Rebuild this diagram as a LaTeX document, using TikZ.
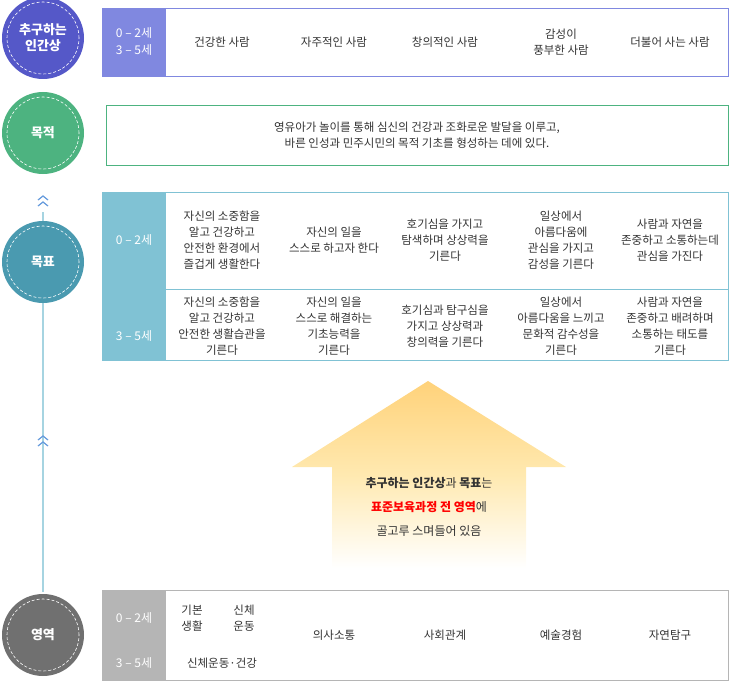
\documentclass[tikz,border=0pt]{standalone}
\usepackage{fontspec}
\setmainfont{Noto Sans CJK KR}
\usetikzlibrary{positioning}
\definecolor{ideal}{HTML}{5558C8}
\definecolor{idealcell}{HTML}{8088E0}
\definecolor{purpose}{HTML}{4DB380}
\definecolor{goal}{HTML}{4A9AB0}
\definecolor{goalcell}{HTML}{80C2D4}
\definecolor{area}{HTML}{707070}
\definecolor{areacell}{HTML}{B5B5B5}
\definecolor{txt}{HTML}{333333}
\definecolor{arrowtop}{HTML}{FFD27A}
\definecolor{arrowmid}{HTML}{FFE9B0}
\tikzset{Badge/.style={circle, minimum size=82pt, text=white, font=\bfseries\fontsize{13}{16}\selectfont, align=center},
         Cell/.style={text=txt, font=\fontsize{11.5}{16}\selectfont, align=center},
         Age/.style={text=white, font=\fontsize{12}{17}\selectfont, align=center},
         Chev/.style={draw=goalcell!80!blue, line width=1.2pt}}
\begin{document}
\begin{tikzpicture}[x=1pt, y=-1pt]
  \useasboundingbox (0,0) rectangle (729,685);
  % spine
  \draw[goalcell!70!white, line width=1.5pt] (43,212) -- (43,592);
  \foreach \y in {196,202,436,442}
    \draw[Chev] (38,\y+4) -- (43,\y) -- (48,\y+4);
  % badges
  \node[Badge, fill=ideal] (B1) at (43,38) {추구하는\\인간상};
  \node[Badge, fill=purpose] (B2) at (43,133) {목적};
  \node[Badge, fill=goal] (B3) at (43,262) {목표};
  \node[Badge, fill=area] (B4) at (43,635) {영역};
  \foreach \n in {B1,B2,B3,B4}
    \draw[white, densely dashed, line width=0.6pt] (\n.center) circle (36pt);
  % ideal human
  \draw[idealcell] (102,8) rectangle (728,76);
  \fill[idealcell] (102,8) rectangle (166,76);
  \node[Age] (A1) at (134,42) {0 – 2세\\3 – 5세};
  \foreach \x/\t in {222/건강한 사람, 334/자주적인 사람, 445/창의적인 사람, 561/감성이\\풍부한 사람, 670/더불어 사는 사람}
    \node[Cell] at (\x,42) {\t};
  % purpose
  \draw[purpose] (106,105) rectangle (728,165);
  \node[Cell] (P) at (417,135) {영유아가 놀이를 통해 심신의 건강과 조화로운 발달을 이루고,\\바른 인성과 민주시민의 목적 기초를 형성하는 데에 있다.};
  % goals
  \draw[goalcell] (102,192) rectangle (728,360);
  \fill[goalcell] (102,192) rectangle (166,360);
  \draw[goalcell] (102,289) -- (728,289);
  \node[Age] (G1) at (134,240) {0 – 2세};
  \node[Age] (G2) at (134,336) {3 – 5세};
  \foreach \x/\t in {222/자신의 소중함을\\알고 건강하고\\안전한 환경에서\\즐겁게 생활한다, 334/자신의 일을\\스스로 하고자 한다, 445/호기심을 가지고\\탐색하며 상상력을\\기른다, 561/일상에서\\아름다움에\\관심을 가지고\\감성을 기른다, 670/사람과 자연을\\존중하고 소통하는데\\관심을 가진다}
    \node[Cell] at (\x,240) {\t};
  \foreach \x/\t in {222/자신의 소중함을\\알고 건강하고\\안전한 생활습관을\\기른다, 334/자신의 일을\\스스로 해결하는\\기초능력을\\기른다, 445/호기심과 탐구심을\\가지고 상상력과\\창의력을 기른다, 561/일상에서\\아름다움을 느끼고\\문화적 감수성을\\기른다, 670/사람과 자연을\\존중하고 배려하며\\소통하는 태도를\\기른다}
    \node[Cell] at (\x,326) {\t};
  % big arrow
  \shade[top color=arrowtop, bottom color=white, middle color=arrowmid]
    (428,381) -- (566,467) -- (526,467) -- (526,568) -- (332,568) -- (332,467) -- (292,467) -- cycle;
  \node[Cell, font=\fontsize{12}{24}\selectfont] (M) at (429,507)
    {\textbf{추구하는 인간상}과 \textbf{목표}는\\{\color{red}\textbf{표준보육과정 전 영역}}에\\골고루 스며들어 있음};
  % areas
  \draw[areacell] (102,590) rectangle (728,680);
  \fill[areacell] (102,590) rectangle (166,680);
  \node[Age] (R1) at (134,618) {0 – 2세};
  \node[Age] (R2) at (134,663) {3 – 5세};
  \node[Cell, align=left] (S1) at (192,618) {기본\\생활};
  \node[Cell, align=left] (S2) at (244,618) {신체\\운동};
  \node[Cell] (S3) at (222,663) {신체운동·건강};
  \foreach \x/\t in {334/의사소통, 445/사회관계, 561/예술경험, 670/자연탐구}
    \node[Cell] at (\x,635) {\t};
\end{tikzpicture}
\end{document}
